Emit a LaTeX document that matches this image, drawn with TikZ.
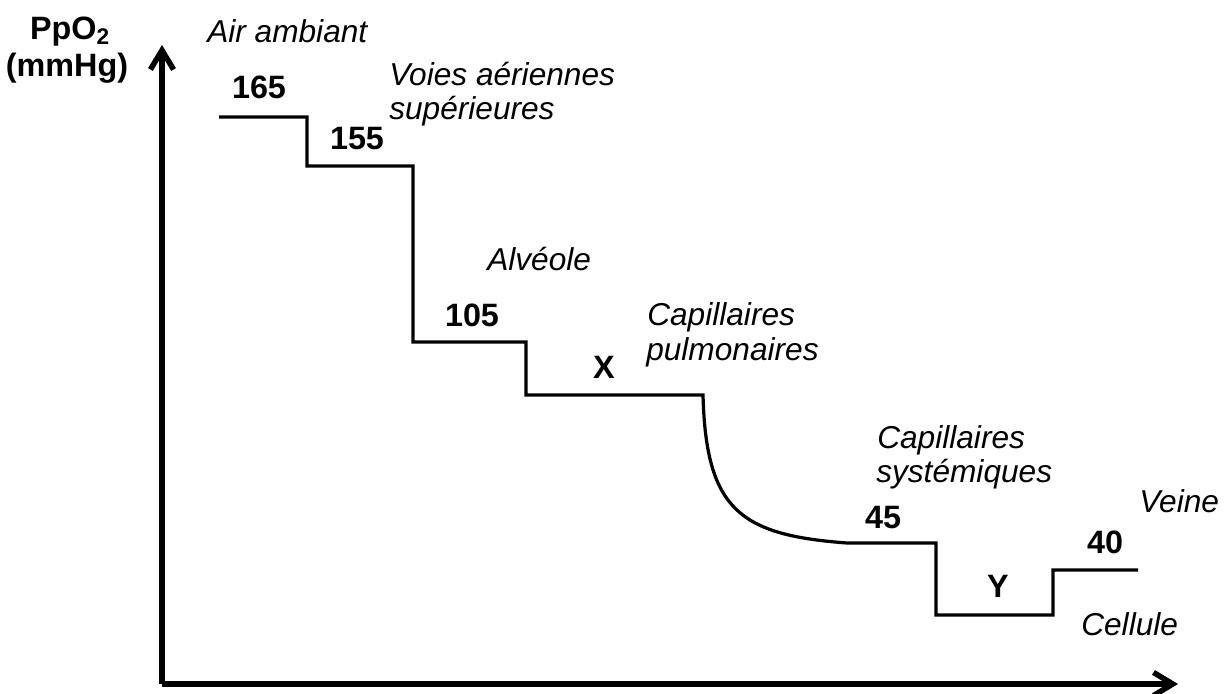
\documentclass[tikz,border=0pt]{standalone}
\usepackage{fontspec}
\setmainfont{Liberation Sans}
\usepackage{tikz}
\usetikzlibrary{arrows.meta}

\begin{document}
\begin{tikzpicture}[
  x=0.025cm, y=-0.025cm,
  font=\fontsize{22.5}{27}\selectfont,
  axe/.style={line width=3.9pt, -{Straight Barb[length=4.8mm, width=5.8mm]}},
  profil/.style={line width=2.3pt, line join=miter},
  val/.style={font=\fontsize{23}{27}\selectfont\bfseries, inner sep=0pt, anchor=base},
  lieu/.style={font=\fontsize{22.5}{27}\selectfont\itshape, inner sep=0pt, anchor=base west}
]
\useasboundingbox (0,0) rectangle (1225,693);

% Axes
\coordinate (O)    at (162,684);
\coordinate (ymax) at (162,45);
\coordinate (xmax) at (1178,684);
\draw[axe] (O) -- (ymax);
\draw[axe] (O) -- (xmax);
\node[val] (ppo)   at (70,39) {PpO\textsubscript{2}};
\node[val] (unite) at (67,76) {(mmHg)};

% Profil de la PpO2
\draw[profil] (219,117) -- (307,117) -- (307,166) -- (413,166) -- (413,342) -- (526,342)
  -- (526,395) -- (703,395) .. controls (706,510) and (740,535) .. (847,543)
  -- (936,543) -- (936,615) -- (1053,615) -- (1053,570) -- (1138,570);

% Valeurs
\node[val] (v165) at (259,98)  {165};
\node[val] (v155) at (357,149) {155};
\node[val] (v105) at (472,326) {105};
\node[val] (vx)   at (604,378) {X};
\node[val] (v45)  at (883,528) {45};
\node[val] (vy)   at (998,597) {Y};
\node[val] (v40)  at (1105,553) {40};

% Lieux
\node[lieu] (air)    at (207,42)   {Air ambiant};
\node[lieu] (voies)  at (389,85)   {Voies aériennes};
\node[lieu] (sup)    at (389,119)  {supérieures};
\node[lieu] (alv)    at (487,270)  {Alvéole};
\node[lieu] (cpul)   at (647,325)  {Capillaires};
\node[lieu] (pulm)   at (646,360)  {pulmonaires};
\node[lieu] (csys)   at (877,448)  {Capillaires};
\node[lieu] (sys)    at (876,482)  {systémiques};
\node[lieu] (veine)  at (1139,512) {Veine};
\node[lieu] (cell)   at (1081,635) {Cellule};
\end{tikzpicture}
\end{document}
